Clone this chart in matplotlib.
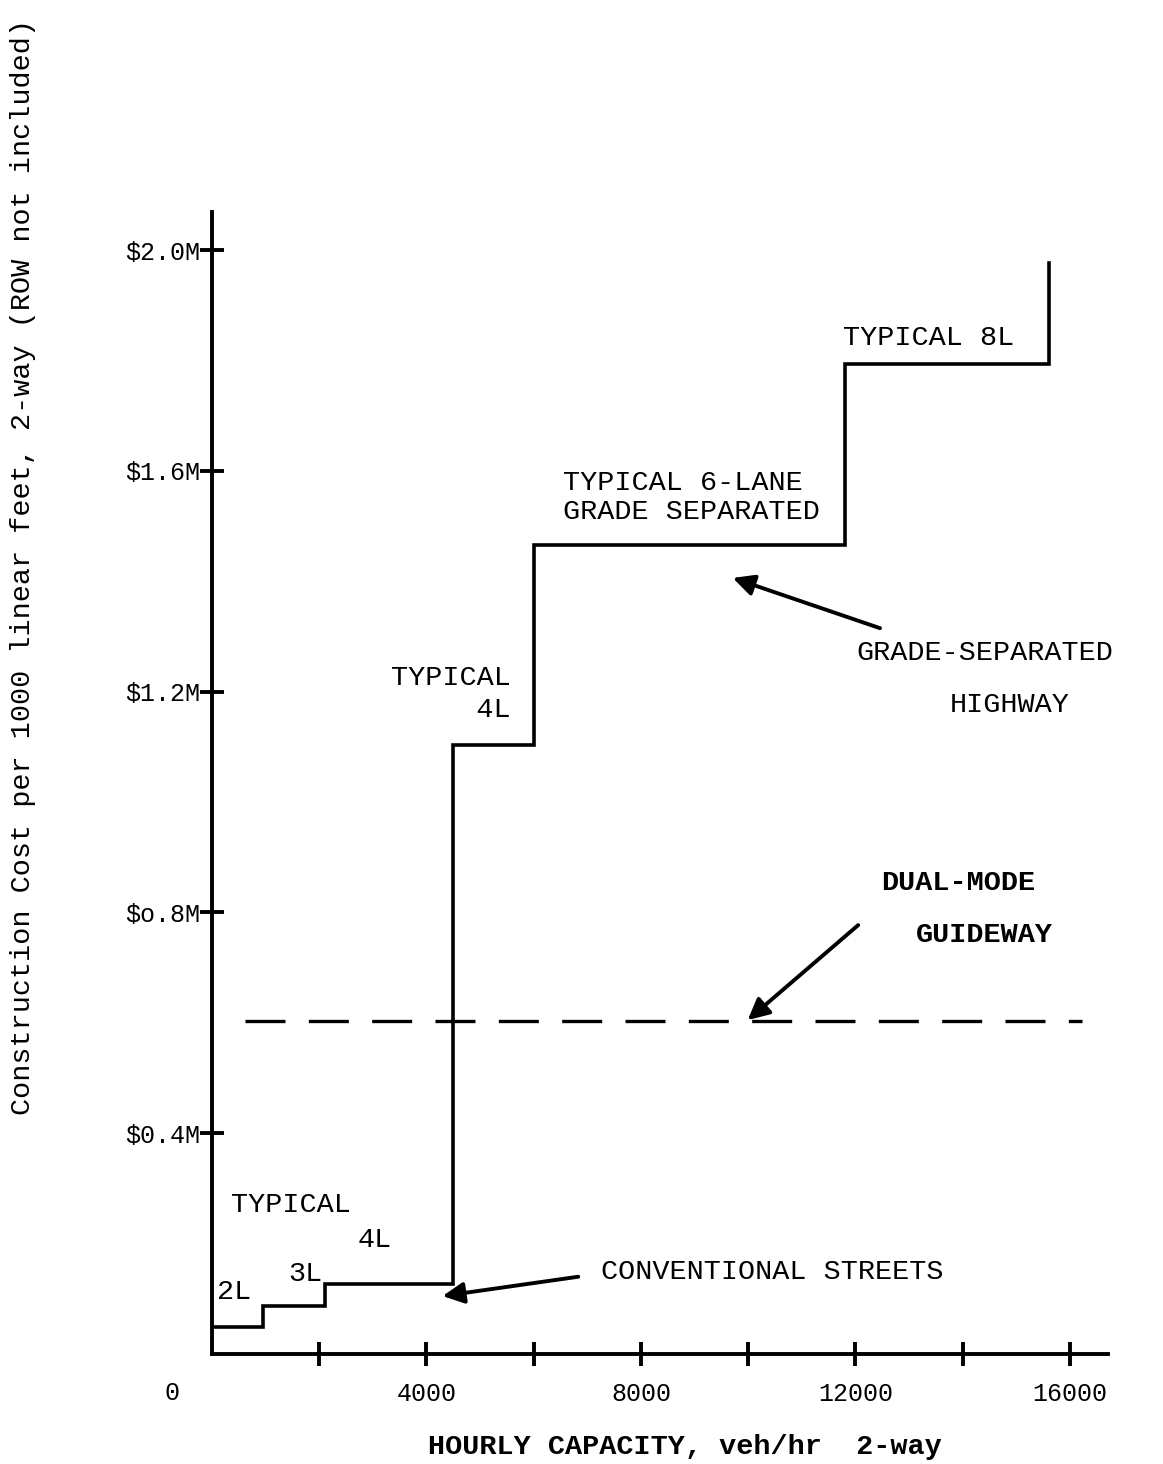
"""Construction cost vs hourly capacity step chart"""
import numpy as np
import matplotlib
matplotlib.use("Agg")
import matplotlib.pyplot as plt

# step curve: capacity break points [veh/hr] and cost levels [$M]
step_edges = [0, 950, 2100, 4500, 6000, 11800, 15600]
step_costs = [0.049, 0.087, 0.127, 1.103, 1.466, 1.793]
step_top = 1.976

# dual-mode guideway cost (flat)
guideway_x = [620, 16220]
guideway_cost = 0.603

x_ticks = [2000, 4000, 6000, 8000, 10000, 12000, 14000, 16000]
x_ticklabels = ["", "4000", "", "8000", "", "12000", "", "16000"]
y_ticks = [0.4, 0.8, 1.2, 1.6, 2.0]
y_ticklabels = ["$0.4M", "$o.8M", "$1.2M", "$1.6M", "$2.0M"]

mono = "Liberation Mono"

fig = plt.figure(figsize=(11.63, 14.64), dpi=100)
ax = fig.add_axes([212 / 1163, 110 / 1464, 896 / 1163, 1142 / 1464])
ax.set_xlim(0, 16709)
ax.set_ylim(0, 2.069)

# build the staircase from the arrays
xs = [step_edges[0]]
ys = [step_costs[0]]
for i in range(1, len(step_edges)):
    xs.append(step_edges[i])
    ys.append(step_costs[i - 1])
    xs.append(step_edges[i])
    ys.append(step_costs[i] if i < len(step_costs) else step_top)
ax.plot(xs, ys, color="black", lw=2.6, solid_joinstyle="miter")

# dashed guideway line
ax.plot(guideway_x, [guideway_cost, guideway_cost], color="black", lw=2.4,
        dashes=(12, 7))

# axes styling
for side in ["top", "right"]:
    ax.spines[side].set_visible(False)
for side in ["left", "bottom"]:
    ax.spines[side].set_linewidth(2.8)
ax.set_xticks(x_ticks)
ax.set_xticklabels(x_ticklabels, fontfamily=mono, fontsize=18)
ax.set_yticks(y_ticks)
ax.set_yticklabels(y_ticklabels, fontfamily=mono, fontsize=18)
ax.tick_params(axis="both", direction="inout", length=17, width=2.8)
ax.tick_params(axis="x", pad=12)
ax.tick_params(axis="y", pad=0)

ax.text(-750, -0.07, "0", fontfamily=mono, fontsize=18, ha="center", va="center",
        clip_on=False)

fig.text(428 / 1163, 1 - 1447 / 1464, "HOURLY CAPACITY, veh/hr  2-way",
         fontfamily=mono, fontsize=20.5, fontweight="bold", ha="left", va="center")
fig.text(23 / 1163, 1 - 567 / 1464,
         "Construction Cost per 1000 linear feet, 2-way (ROW not included)",
         fontfamily=mono, fontsize=20.5, rotation=90, ha="center", va="center")

# annotations
txt = dict(fontfamily=mono, fontsize=20.5, color="black")
bold = dict(txt, fontweight="bold")
ax.text(11767, 1.841, "TYPICAL 8L", ha="left", va="center", **txt)
ax.text(6545, 1.552, "TYPICAL 6-LANE\nGRADE SEPARATED", ha="left", va="center",
        linespacing=1.15, **txt)
ax.text(5576, 1.196, "TYPICAL\n   4L", ha="right", va="center",
        linespacing=1.3, **txt)
ax.text(14415, 1.270, "GRADE-SEPARATED", ha="center", va="center", **txt)
ax.text(14880, 1.175, "HIGHWAY", ha="center", va="center", **txt)
ax.text(13910, 0.853, "DUAL-MODE", ha="center", va="center", **bold)
ax.text(14395, 0.759, "GUIDEWAY", ha="center", va="center", **bold)
ax.text(350, 0.270, "TYPICAL", ha="left", va="center", **txt)
ax.text(2720, 0.207, "4L", ha="left", va="center", **txt)
ax.text(95, 0.112, "2L", ha="left", va="center", **txt)
ax.text(1420, 0.145, "3L", ha="left", va="center", **txt)
ax.text(7250, 0.149, "CONVENTIONAL STREETS", ha="left", va="center", **txt)

arrow = dict(arrowstyle="-|>", lw=2.8, color="black", mutation_scale=32,
             shrinkA=0, shrinkB=0)
ax.annotate("", xy=(9712, 1.406), xytext=(12457, 1.315), arrowprops=arrow)
ax.annotate("", xy=(9990, 0.605), xytext=(12050, 0.777), arrowprops=arrow)
ax.annotate("", xy=(4300, 0.105), xytext=(6830, 0.140), arrowprops=arrow)

fig.savefig("out.png", dpi=100, facecolor="white")
